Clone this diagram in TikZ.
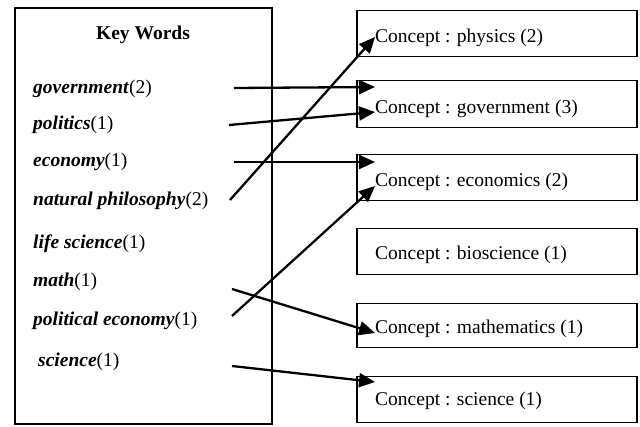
\documentclass[tikz,border=0pt]{standalone}
\usepackage{fontspec}
\setmainfont{Liberation Serif}
\usetikzlibrary{arrows.meta}
\tikzset{
  kwbox/.style={draw, line width=1.7pt, inner sep=0pt},
  cbox/.style={draw, line width=1.5pt, inner sep=0pt, minimum width=280pt, anchor=north west},
  kw/.style={anchor=base west, inner sep=0pt, font=\fontsize{19.5}{22}\selectfont},
  ctext/.style={anchor=base west, inner sep=0pt, font=\fontsize{19.5}{22}\selectfont},
  link/.style={line width=2.3pt, -{Triangle[length=16pt,width=14pt]}}
}
\begin{document}
\begin{tikzpicture}[x=1pt,y=-1pt]
\useasboundingbox (0,0) rectangle (640,427);
% key words box
\node[kwbox, minimum width=257pt, minimum height=416pt, anchor=north west] (kwb) at (14,7) {};
\node[anchor=base, inner sep=0pt, font=\fontsize{19.5}{22}\selectfont\bfseries] (title) at (143,40) {Key Words};
\node[kw] (k1) at (33,94) {\textbf{\textit{government}}(2)};
\node[kw] (k2) at (33,130) {\textbf{\textit{politics}}(1)};
\node[kw] (k3) at (33,167) {\textbf{\textit{economy}}(1)};
\node[kw] (k4) at (33,206) {\textbf{\textit{natural philosophy}}(2)};
\node[kw] (k5) at (33,249) {\textbf{\textit{life science}}(1)};
\node[kw] (k6) at (33,287) {\textbf{\textit{math}}(1)};
\node[kw] (k7) at (33,326) {\textbf{\textit{political economy}}(1)};
\node[kw] (k8) at (38,367) {\textbf{\textit{science}}(1)};
% concept boxes
\node[cbox, minimum height=46pt] (b1) at (356,10) {};
\node[cbox, minimum height=47pt] (b2) at (356,80) {};
\node[cbox, minimum height=46pt] (b3) at (356,154) {};
\node[cbox, minimum height=46pt] (b4) at (356,228) {};
\node[cbox, minimum height=44pt] (b5) at (356,303) {};
\node[cbox, minimum height=46pt] (b6) at (356,376) {};
\node[ctext] (c1) at (375,43) {Concept : physics (2)};
\node[ctext] (c2) at (375,114) {Concept : government (3)};
\node[ctext] (c3) at (375,187) {Concept : economics (2)};
\node[ctext] (c4) at (375,260) {Concept : bioscience (1)};
\node[ctext] (c5) at (375,334) {Concept : mathematics (1)};
\node[ctext] (c6) at (375,406) {Concept : science (1)};
% arrow ends
\coordinate (s1) at (234,88);
\coordinate (s2) at (229,125);
\coordinate (s3) at (234,162);
\coordinate (s4) at (230,200);
\coordinate (s6) at (232,289);
\coordinate (s7) at (232,316);
\coordinate (s8) at (232,366);
\coordinate (t1) at (375,87);
\coordinate (t2) at (375,112);
\coordinate (t3) at (375,162);
\coordinate (t4) at (375,37);
\coordinate (t6) at (375,333);
\coordinate (t7) at (375,186);
\coordinate (t8) at (375,382);
\draw[link] (s1) -- (t1);
\draw[link] (s2) -- (t2);
\draw[link] (s3) -- (t3);
\draw[link] (s4) -- (t4);
\draw[link] (s6) -- (t6);
\draw[link] (s7) -- (t7);
\draw[link] (s8) -- (t8);
\end{tikzpicture}
\end{document}
